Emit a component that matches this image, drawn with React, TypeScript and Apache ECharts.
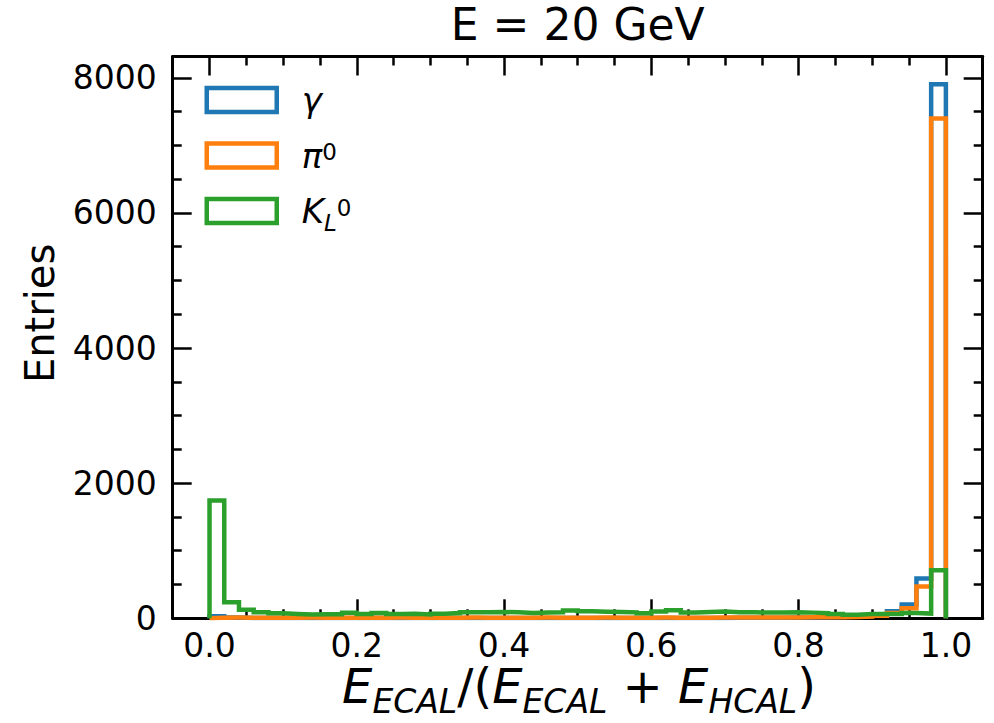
import React, { useEffect, useRef } from 'react';
import * as echarts from 'echarts';

const FONT = 'DejaVu Sans';
const BIN_WIDTH = 0.02;

const gammaCounts = [
  30, 10, 6, 5, 5, 4, 5, 4, 5, 4,
  5, 4, 5, 4, 5, 5, 4, 5, 4, 5,
  5, 4, 5, 5, 4, 5, 5, 4, 5, 5,
  5, 6, 5, 6, 6, 7, 7, 8, 9, 10,
  12, 15, 18, 25, 35, 50, 105, 205, 590, 7907,
];
const pi0Counts = [
  8, 10, 8, 7, 9, 8, 10, 8, 7, 9,
  8, 9, 10, 8, 9, 8, 9, 10, 8, 9,
  9, 8, 10, 9, 8, 9, 10, 8, 9, 9,
  10, 9, 8, 9, 10, 10, 11, 12, 12, 13,
  14, 15, 16, 18, 25, 38, 80, 150, 470, 7400,
];
const k0lCounts = [
  1745, 237, 126, 89, 74, 64, 56, 59, 60, 81,
  64, 78, 62, 66, 56, 67, 77, 91, 91, 93,
  88, 78, 86, 88, 116, 103, 98, 93, 88, 74,
  100, 121, 85, 93, 100, 90, 90, 85, 85, 91,
  84, 76, 64, 52, 62, 62, 64, 79, 70, 713,
];

const seriesNames = ['γ', 'π0', 'K0L'];
const seriesColors = ['#1f77b4', '#ff7f0e', '#2ca02c'];

const xMajorTicks = [0, 0.2, 0.4, 0.6, 0.8, 1.0];
const xMinorTicks = [0.05, 0.1, 0.15, 0.25, 0.3, 0.35, 0.45, 0.5, 0.55, 0.65, 0.7, 0.75, 0.85, 0.9, 0.95];
const yMajorTicks = [0, 2000, 4000, 6000, 8000];
const yMinorTicks = [500, 1000, 1500, 2500, 3000, 3500, 4500, 5000, 5500, 6500, 7000, 7500];

const X_MIN = -0.05;
const X_MAX = 1.05;
const Y_MIN = 0;
const Y_MAX = 8316;

const xAxisTitle = '{e|E}{s|ECAL}{n|/(}{e|E}{s|ECAL}{n| + }{e|E}{s|HCAL}{n|)}';

function buildOutline(counts: number[]): [number, number][] {
  const pts: [number, number][] = [[0, 0]];
  counts.forEach((c, k) => {
    pts.push([k * BIN_WIDTH, c], [(k + 1) * BIN_WIDTH, c]);
  });
  pts.push([counts.length * BIN_WIDTH, 0]);
  return pts;
}

const legendLabel: Record<string, string> = {
  'γ': '{g| }{i|γ}',
  'π0': '{g| }{i|π}{sup|0}',
  'K0L': '{g| }{i|K}{sub|L}{sup|0}',
};

export default function App() {
  const ref = useRef<HTMLDivElement>(null);

  useEffect(() => {
    if (!ref.current) return;
    const chart = echarts.init(ref.current, undefined, { renderer: 'svg' });

    const black = '#000';
    const tickLine = { color: black, width: 2.5 };
    const mkX = (position: 'bottom' | 'top', major: boolean, main: boolean) => ({
      type: 'value',
      min: X_MIN,
      max: X_MAX,
      position,
      axisLine: { show: major, onZero: false, lineStyle: { color: black, width: 3 } },
      axisTick: {
        show: true,
        inside: true,
        length: major ? 19 : 9,
        lineStyle: tickLine,
        customValues: major ? xMajorTicks : xMinorTicks,
      },
      axisLabel: main
        ? {
            show: true,
            customValues: xMajorTicks,
            formatter: (v: number) => Number(v).toFixed(1),
            margin: 11,
            fontFamily: FONT,
            fontSize: 33,
            color: black,
          }
        : { show: false, customValues: major ? xMajorTicks : xMinorTicks },
      splitLine: { show: false },
    });
    const mkY = (position: 'left' | 'right', major: boolean, main: boolean) => ({
      type: 'value',
      min: Y_MIN,
      max: Y_MAX,
      position,
      axisLine: { show: major, onZero: false, lineStyle: { color: black, width: 3 } },
      axisTick: {
        show: true,
        inside: true,
        length: major ? 19 : 9,
        lineStyle: tickLine,
        customValues: major ? yMajorTicks : yMinorTicks,
      },
      axisLabel: main
        ? {
            show: true,
            customValues: yMajorTicks,
            formatter: (v: number) => String(v),
            margin: 16,
            fontFamily: FONT,
            fontSize: 33,
            color: black,
          }
        : { show: false, customValues: major ? yMajorTicks : yMinorTicks },
      splitLine: { show: false },
      ...(main
        ? {
            name: 'Entries',
            nameLocation: 'middle',
            nameGap: 113,
            nameTextStyle: { fontFamily: FONT, fontSize: 40, color: black, padding: [0, 0, 0, 48] },
          }
        : {}),
    });

    const countsList = [gammaCounts, pi0Counts, k0lCounts];

    chart.setOption({
      animation: false,
      backgroundColor: '#fff',
      textStyle: { fontFamily: FONT },
      grid: { left: 172.7, right: 11.3, top: 56.5, bottom: 104.7, containLabel: false, outerBoundsMode: 'none' },
      graphic: [
        {
          type: 'text',
          x: 577.7,
          y: 2,
          style: {
            text: 'E = 20 GeV',
            fontFamily: FONT,
            fontSize: 44,
            fill: black,
            align: 'center',
            verticalAlign: 'top',
          },
        },
        {
          type: 'text',
          x: 579,
          y: 666,
          style: {
            text: xAxisTitle,
            align: 'center',
            verticalAlign: 'top',
            fill: black,
            fontFamily: FONT,
            fontSize: 48,
            rich: {
              e: { fontFamily: FONT, fontStyle: 'italic', fontSize: 48, lineHeight: 40, verticalAlign: 'middle', fill: black },
              s: { fontFamily: FONT, fontStyle: 'italic', fontSize: 33, lineHeight: 10, verticalAlign: 'top', padding: [19, 0, 0, 0], fill: black },
              n: { fontFamily: FONT, fontSize: 48, lineHeight: 40, verticalAlign: 'middle', fill: black },
            },
          },
        },
      ],
      legend: {
        orient: 'vertical',
        left: 204.5,
        top: 83,
        itemWidth: 70,
        itemHeight: 24,
        itemGap: 15.5,
        padding: 0,
        selectedMode: false,
        data: seriesNames.map((n, i) => ({
          name: n,
          icon: 'rect',
          itemStyle: { color: 'rgba(255,255,255,0)', borderColor: seriesColors[i], borderWidth: 4.5 },
        })),
        formatter: (name: string) => legendLabel[name] || name,
        textStyle: {
          color: black,
          rich: {
            g: { width: 20, fontSize: 10, lineHeight: 46 },
            i: { fontFamily: FONT, fontStyle: 'italic', fontSize: 34, lineHeight: 30, verticalAlign: 'middle', color: black },
            sup: { fontFamily: FONT, fontSize: 23, lineHeight: 10, verticalAlign: 'top', padding: [8, 0, 0, 0], color: black },
            sub: { fontFamily: FONT, fontStyle: 'italic', fontSize: 23, lineHeight: 10, verticalAlign: 'bottom', color: black },
          },
        },
      },
      xAxis: [mkX('bottom', true, true), mkX('bottom', false, false), mkX('top', true, false), mkX('top', false, false)],
      yAxis: [mkY('left', true, true), mkY('left', false, false), mkY('right', true, false), mkY('right', false, false)],
      series: countsList.map((counts, i) => ({
        type: 'line',
        name: seriesNames[i],
        xAxisIndex: 0,
        yAxisIndex: 0,
        data: buildOutline(counts),
        showSymbol: false,
        symbol: 'none',
        silent: true,
        z: 3 + i,
        lineStyle: { color: seriesColors[i], width: 4.5, join: 'miter' },
        itemStyle: { color: seriesColors[i] },
        emphasis: { disabled: true },
      })),
    });

    return () => chart.dispose();
  }, []);

  return <div ref={ref} style={{ position: 'absolute', left: 0, top: 0, width: 994, height: 723 }} />;
}
